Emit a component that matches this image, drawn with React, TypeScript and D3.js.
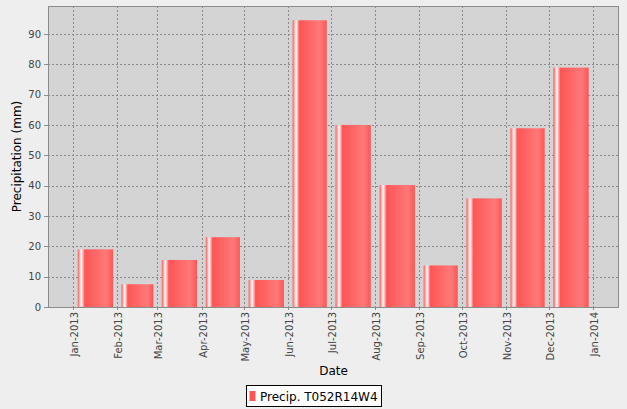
import React from "react";
import * as d3 from "d3";

const months = ["2013-01", "2013-02", "2013-03", "2013-04", "2013-05", "2013-06", "2013-07", "2013-08", "2013-09", "2013-10", "2013-11", "2013-12"];
const precip = [19.0, 7.5, 15.5, 23.0, 8.9, 94.5, 60.0, 40.2, 13.7, 35.8, 58.9, 78.9];
const yTicks = [0, 10, 20, 30, 40, 50, 60, 70, 80, 90];
const seriesName = "Precip. T052R14W4";
const xTickFormat = "%b-%Y";

const W = 627;
const H = 409;
const plot = { left: 48, top: 6, right: 619, bottom: 307 };
const FONT = "DejaVu Sans, sans-serif";

const parse = d3.utcParse("%Y-%m");
const DAY = 86400000;

export default function App() {
  const start = parse(months[0]) as Date;
  const x = d3
    .scaleUtc()
    .domain([new Date(start.getTime() - 17.8 * DAY), new Date(start.getTime() + 383.2 * DAY)])
    .range([plot.left, plot.right]);
  const y = d3.scaleLinear().domain([0, 99.2]).range([plot.bottom, plot.top]);
  const xTicks = d3.utcMonth.range(start, new Date(Date.UTC(2014, 0, 2)));
  const fmt = d3.utcFormat(xTickFormat);

  const bars = months.map((m, i) => {
    const s = parse(m) as Date;
    const e = d3.utcMonth.offset(s, 1);
    const x0 = x(s);
    const x1 = x(e);
    const w = x1 - x0;
    return { x: x0 + w * 0.1, w: w * 0.8, v: precip[i] };
  });

  return (
    <svg width={W} height={H} style={{ position: "absolute", left: 0, top: 0, fontFamily: FONT }}>
      <defs>
        <linearGradient id="barGrad" x1="0" x2="1" y1="0" y2="0">
          <stop offset="0" stopColor="#ff5555" />
          <stop offset="0.1" stopColor="#ffffff" />
          <stop offset="0.2" stopColor="#ff5555" />
          <stop offset="0.8" stopColor="#ff7979" />
          <stop offset="1" stopColor="#ff5555" />
        </linearGradient>
      </defs>
      <rect x={0} y={0} width={W} height={H} fill="#eeeeee" />
      <rect x={plot.left} y={plot.top} width={plot.right - plot.left} height={plot.bottom - plot.top} fill="#d4d4d4" />
      {/* grid */}
      {yTicks.map((t) => (
        <line key={"gy" + t} x1={plot.left} x2={plot.right} y1={Math.round(y(t)) + 0.5} y2={Math.round(y(t)) + 0.5} stroke="#8a8a8a" strokeDasharray="2,2" />
      ))}
      {xTicks.map((t, i) => (
        <line key={"gx" + i} x1={Math.round(x(t)) + 0.5} x2={Math.round(x(t)) + 0.5} y1={plot.top} y2={plot.bottom} stroke="#8a8a8a" strokeDasharray="2,2" />
      ))}
      {/* bars */}
      {bars.map((b, i) => (
        <rect key={"b" + i} x={b.x} y={y(b.v)} width={b.w} height={plot.bottom - y(b.v)} fill="url(#barGrad)" />
      ))}
      {/* outline */}
      <rect x={plot.left + 0.5} y={plot.top + 0.5} width={plot.right - plot.left - 1} height={plot.bottom - plot.top} fill="none" stroke="#8c8c8c" />
      {/* y axis ticks */}
      {yTicks.map((t) => (
        <g key={"yt" + t}>
          <line x1={plot.left - 4} x2={plot.left} y1={Math.round(y(t)) + 0.5} y2={Math.round(y(t)) + 0.5} stroke="#8c8c8c" />
          <text x={41} y={y(t) + 3.6} textAnchor="end" fontSize={10} fill="#444">
            {t}
          </text>
        </g>
      ))}
      {/* x axis ticks */}
      {xTicks.map((t, i) => (
        <g key={"xt" + i}>
          <line x1={Math.round(x(t)) + 0.5} x2={Math.round(x(t)) + 0.5} y1={plot.bottom} y2={plot.bottom + 3} stroke="#8c8c8c" />
          <text transform={`translate(${x(t) + 5},${plot.bottom + 5}) rotate(-90)`} textAnchor="end" fontSize={10} fill="#444">
            {fmt(t)}
          </text>
        </g>
      ))}
      {/* axis labels */}
      <text x={(plot.left + plot.right) / 2} y={375} textAnchor="middle" fontSize={12} fill="#000">
        Date
      </text>
      <text transform={`translate(21,${(plot.top + plot.bottom) / 2}) rotate(-90)`} textAnchor="middle" fontSize={12} fill="#000">
        Precipitation (mm)
      </text>
      {/* legend */}
      <g>
        <rect x={246.5} y={385.5} width={135} height={21} fill="#ffffff" stroke="#000" />
        <rect x={249.5} y={391} width={6} height={10} fill="#ff5555" />
        <text x={260} y={400.5} fontSize={12} fill="#000">
          {seriesName}
        </text>
      </g>
    </svg>
  );
}
